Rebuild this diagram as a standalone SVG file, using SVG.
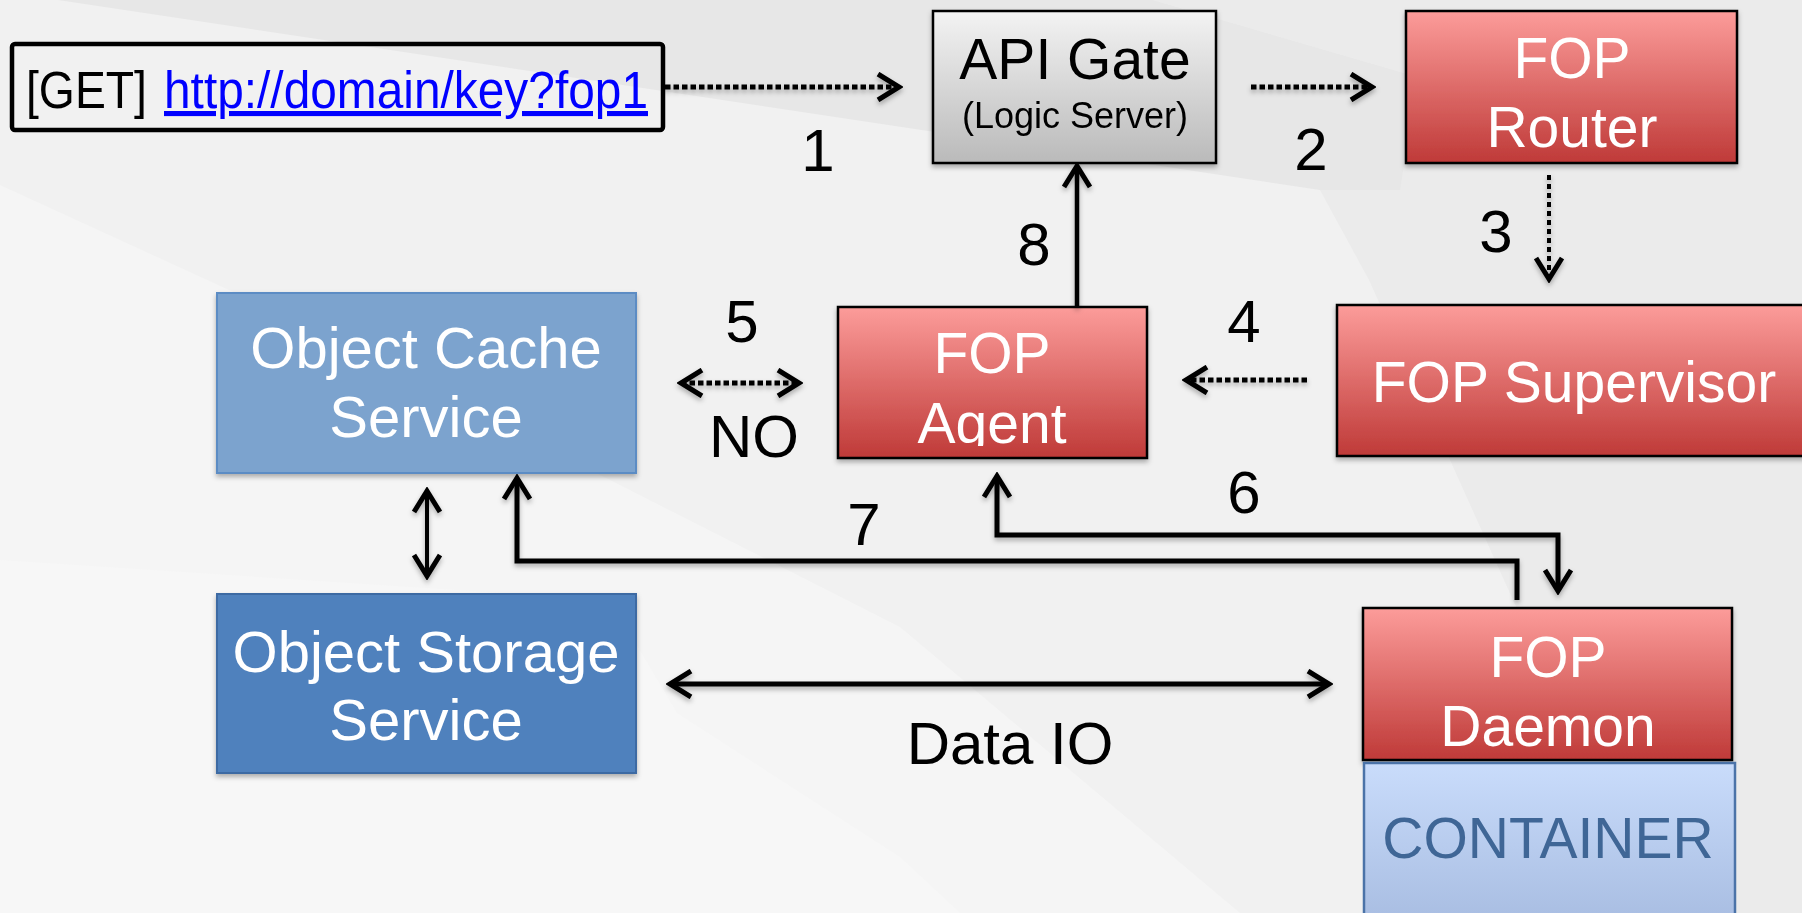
<svg xmlns="http://www.w3.org/2000/svg" width="1802" height="913" viewBox="0 0 1802 913">
  <defs>
    <linearGradient id="gradRed" x1="0" y1="0" x2="0" y2="1">
      <stop offset="0" stop-color="#fc9c9a"/>
      <stop offset="1" stop-color="#bf3a38"/>
    </linearGradient>
    <linearGradient id="gradGrey" x1="0" y1="0" x2="0" y2="1">
      <stop offset="0" stop-color="#f3f3f3"/>
      <stop offset="1" stop-color="#bababa"/>
    </linearGradient>
    <linearGradient id="gradLightBlue" x1="0" y1="0" x2="0" y2="1">
      <stop offset="0" stop-color="#c9dcfb"/>
      <stop offset="1" stop-color="#a6bbe0"/>
    </linearGradient>
    <filter id="shadow" x="-10%" y="-10%" width="120%" height="130%">
      <feDropShadow dx="0" dy="3" stdDeviation="2.5" flood-color="#000" flood-opacity="0.3"/>
    </filter>
    <marker id="head" viewBox="0 0 30 30" refX="26" refY="15" markerWidth="30" markerHeight="30" markerUnits="userSpaceOnUse" orient="auto-start-reverse">
      <path d="M5,2 L26,15 L5,28" fill="none" stroke="#000" stroke-width="5" stroke-dasharray="none"/>
    </marker>
    <clipPath id="agentClip">
      <rect x="838" y="307" width="309" height="139"/>
    </clipPath>
  </defs>
  <style>
    .node-text { font-family: "Liberation Sans", Arial, Helvetica, sans-serif; fill: #fff; text-anchor: middle; font-size: 57px; }
    .label { font-family: "Liberation Sans", Arial, Helvetica, sans-serif; fill: #000; text-anchor: middle; font-size: 60px; }
    .red { fill: url(#gradRed); stroke: #000; stroke-width: 2.5; }
    .link { fill: none; stroke: #000; stroke-width: 5; }
    .dotted { fill: none; stroke: #000; stroke-width: 5; stroke-dasharray: 5.5 3; }
  </style>

  <!-- background facets -->
  <g id="background">
    <rect x="0" y="0" width="1802" height="913" fill="#f1f1f1"/>
    <polygon points="1153,0 1802,0 1802,913 1700,913 1522,620 1369,280 1320,190 1418,77" fill="#ebebeb"/>
    <polygon points="58,0 1153,0 1418,77 1400,190 1320,190" fill="#e7e7e7"/>
    <polygon points="0,185 240,295 610,480 900,627 1240,913 0,913" fill="#f5f5f5"/>
    <polygon points="0,560 610,600 677,713 900,857 960,913 0,913" fill="#f7f7f7"/>
  </g>

  <!-- request line -->
  <g id="request">
    <rect x="12" y="44" width="651" height="86" rx="3" fill="none" stroke="#000" stroke-width="4.5"/>
    <text x="26" y="108" font-family="'Liberation Sans', Arial, sans-serif" font-size="51" fill="#000" textLength="121" lengthAdjust="spacingAndGlyphs">[GET]</text>
    <text x="164" y="108" font-family="'Liberation Sans', Arial, sans-serif" font-size="51" fill="#0000ff" textLength="484" lengthAdjust="spacingAndGlyphs" text-decoration="underline">http://domain/key?fop1</text>
  </g>

  <g id="api-gate" filter="url(#shadow)">
    <rect x="933" y="11" width="283" height="152" fill="url(#gradGrey)" stroke="#000" stroke-width="2.5"/>
    <text class="node-text" x="1075" y="79" style="fill:#000">API Gate</text>
    <text class="node-text" x="1075" y="128" style="fill:#000;font-size:36px">(Logic Server)</text>
  </g>

  <g id="fop-router" filter="url(#shadow)">
    <rect class="red" x="1406" y="11" width="331" height="152"/>
    <text class="node-text" x="1572" y="78">FOP</text>
    <text class="node-text" x="1572" y="147">Router</text>
  </g>

  <g id="fop-supervisor" filter="url(#shadow)">
    <rect class="red" x="1337" y="305" width="480" height="151"/>
    <text class="node-text" x="1574" y="402">FOP Supervisor</text>
  </g>

  <g id="fop-agent" filter="url(#shadow)">
    <rect class="red" x="838" y="307" width="309" height="151"/>
    <text class="node-text" x="992" y="373">FOP</text>
    <text class="node-text" x="992" y="443" clip-path="url(#agentClip)">Agent</text>
  </g>

  <g id="object-cache" filter="url(#shadow)">
    <rect x="217" y="293" width="419" height="180" fill="#7ba3ce" stroke="#5c8cc4" stroke-width="2"/>
    <text class="node-text" x="426" y="368" style="font-size:58px">Object Cache</text>
    <text class="node-text" x="426" y="437" style="font-size:58px">Service</text>
  </g>

  <g id="object-storage" filter="url(#shadow)">
    <rect x="217" y="594" width="419" height="179" fill="#4f81bd" stroke="#3d6aa3" stroke-width="2"/>
    <text class="node-text" x="426" y="672" style="font-size:58px">Object Storage</text>
    <text class="node-text" x="426" y="740" style="font-size:58px">Service</text>
  </g>

  <g id="fop-daemon" filter="url(#shadow)">
    <rect class="red" x="1363" y="608" width="369" height="152"/>
    <text class="node-text" x="1548" y="677">FOP</text>
    <text class="node-text" x="1548" y="746">Daemon</text>
  </g>

  <g id="container">
    <rect x="1364" y="763" width="371" height="170" fill="url(#gradLightBlue)" stroke="#4b73a8" stroke-width="2.5"/>
    <text class="node-text" x="1548" y="858" style="fill:#3f6696">CONTAINER</text>
  </g>

  <!-- connectors -->
  <g id="connectors" filter="url(#shadow)">
    <path class="dotted" d="M665,87 H899" marker-end="url(#head)"/>
    <path class="dotted" d="M1251,87 H1372" marker-end="url(#head)"/>
    <path class="dotted" d="M1549,175 V279" style="stroke-width:4;stroke-dasharray:5 4" marker-end="url(#head)"/>
    <path class="dotted" d="M1307,380 H1186" marker-end="url(#head)"/>
    <path class="dotted" d="M681,383 H799" marker-start="url(#head)" marker-end="url(#head)"/>
    <path class="link" d="M1558,591 V535 H997 V476" marker-start="url(#head)" marker-end="url(#head)"/>
    <path class="link" d="M1517,600 V561 H517 V478" marker-end="url(#head)"/>
    <path class="link" d="M1077,307 V166" style="stroke-width:4.5" marker-end="url(#head)"/>
    <path class="link" d="M427,491 V576" style="stroke-width:4" marker-start="url(#head)" marker-end="url(#head)"/>
    <path class="link" d="M670,684 H1329" marker-start="url(#head)" marker-end="url(#head)"/>
  </g>

  <!-- step labels -->
  <g id="labels">
    <text class="label" x="818" y="171">1</text>
    <text class="label" x="1311" y="170">2</text>
    <text class="label" x="1496" y="252">3</text>
    <text class="label" x="1244" y="342">4</text>
    <text class="label" x="742" y="342">5</text>
    <text class="label" x="754" y="457">NO</text>
    <text class="label" x="1244" y="513">6</text>
    <text class="label" x="864" y="545">7</text>
    <text class="label" x="1034" y="265">8</text>
    <text class="label" x="1010" y="764">Data IO</text>
  </g>
</svg>
